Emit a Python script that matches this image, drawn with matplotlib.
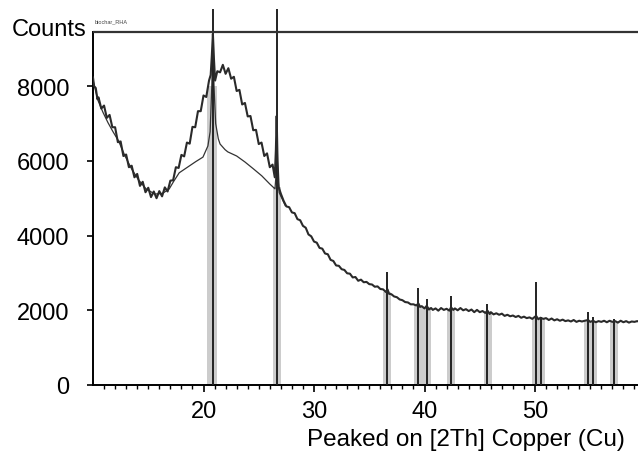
import numpy as np
import matplotlib
matplotlib.use("Agg")
import matplotlib.pyplot as plt

plt.rcParams['font.family'] = ['Liberation Sans', 'DejaVu Sans']

scan_2th = [10.0, 10.1, 10.25, 10.4, 10.5, 10.75, 11.0, 11.25, 11.5, 11.75, 12.0, 12.25, 12.5, 12.75,
            13.0, 13.25, 13.5, 13.75, 14.0, 14.25, 14.5, 14.75, 15.0, 15.25, 15.5, 15.75, 16.0, 16.25,
            16.5, 16.75, 17.0, 17.25, 17.5, 17.75, 18.0, 18.25, 18.5, 18.75, 19.0, 19.25, 19.5, 19.75,
            20.0, 20.25, 20.5, 20.65, 20.75, 20.85, 20.95, 21.05, 21.25, 21.5, 21.75, 22.0, 22.25, 22.5,
            22.75, 23.0, 23.25, 23.5, 23.75, 24.0, 24.25, 24.5, 24.75, 25.0, 25.25, 25.5, 25.75, 26.0,
            26.25, 26.45, 26.55, 26.62, 26.7, 26.8, 27.0, 27.25, 27.5, 27.75, 28.0, 28.25, 28.5, 28.75,
            29.0, 29.25, 29.5, 29.75, 30.0, 30.25, 30.5, 30.75, 31.0, 31.25, 31.5, 31.75, 32.0, 32.25,
            32.5, 32.75, 33.0, 33.25, 33.5, 33.75, 34.0, 34.25, 34.5, 34.75, 35.0, 35.25, 35.5, 35.75,
            36.0, 36.25, 36.5, 36.65, 36.8, 37.0, 37.25, 37.5, 37.75, 38.0, 38.25, 38.5, 38.75, 39.0,
            39.25, 39.45, 39.6, 39.75, 40.0, 40.2, 40.4, 40.6, 40.75, 41.0, 41.25, 41.5, 41.75, 42.0,
            42.25, 42.4, 42.6, 42.75, 43.0, 43.25, 43.5, 43.75, 44.0, 44.25, 44.5, 44.75, 45.0, 45.25,
            45.5, 45.7, 45.9, 46.0, 46.25, 46.5, 46.75, 47.0, 47.25, 47.5, 47.75, 48.0, 48.25, 48.5,
            48.75, 49.0, 49.25, 49.5, 49.75, 50.1, 50.3, 50.5, 50.75, 51.0, 51.25, 51.5, 51.75, 52.0,
            52.25, 52.5, 52.75, 53.0, 53.25, 53.5, 53.75, 54.0, 54.25, 54.5, 54.8, 55.0, 55.25, 55.5,
            55.75, 56.0, 56.25, 56.5, 56.75, 57.0, 57.25, 57.5, 57.75, 58.0, 58.25, 58.5, 58.75, 59.0,
            59.25, 59.5]
scan_counts = [8230, 8000, 7950, 7650, 7700, 7400, 7480, 7150, 7230, 6900, 6900, 6500, 6520, 6130,
               6170, 5830, 5870, 5560, 5650, 5330, 5440, 5160, 5280, 5030, 5180, 5000, 5190, 5050,
               5290, 5180, 5470, 5480, 5830, 5810, 6160, 6120, 6490, 6460, 6910, 6900, 7330, 7330,
               7750, 7710, 8150, 8300, 8800, 9400, 8700, 8150, 8400, 8370, 8570, 8330, 8480, 8200,
               8250, 7870, 7900, 7510, 7550, 7190, 7200, 6820, 6830, 6450, 6490, 6130, 6200, 5830,
               5900, 5560, 6300, 7200, 6000, 5300, 5120, 4930, 4780, 4760, 4620, 4600, 4440, 4410,
               4260, 4210, 4030, 3980, 3840, 3810, 3670, 3650, 3520, 3500, 3350, 3320, 3200, 3190,
               3100, 3080, 2990, 2980, 2880, 2890, 2790, 2820, 2750, 2760, 2700, 2690, 2630, 2640,
               2570, 2560, 2490, 2560, 2440, 2430, 2370, 2350, 2290, 2270, 2220, 2210, 2160, 2160,
               2130, 2180, 2090, 2110, 2050, 2120, 2020, 2060, 2010, 2050, 1990, 2060, 2010, 2040,
               1990, 2080, 2010, 2050, 2000, 2060, 2000, 2030, 1980, 2020, 1950, 2010, 1950, 1980,
               1930, 1990, 1900, 1950, 1890, 1920, 1880, 1910, 1850, 1880, 1840, 1860, 1820, 1850,
               1800, 1830, 1790, 1810, 1770, 1850, 1760, 1800, 1770, 1790, 1740, 1780, 1730, 1760,
               1720, 1750, 1710, 1730, 1700, 1740, 1690, 1720, 1700, 1720, 1740, 1690, 1720, 1680,
               1710, 1690, 1720, 1680, 1720, 1690, 1710, 1670, 1720, 1680, 1710, 1670, 1700, 1690,
               1710, 1690]

# fitted background + profile (thin line)
fit_2th = [10.0, 10.45, 10.9, 11.36, 11.81, 12.3, 12.9, 13.5, 14.1, 14.8, 15.6, 16.3, 16.9, 17.3,
           17.8, 18.6, 19.3, 19.95, 20.4, 20.6, 20.75, 20.85, 20.95, 21.1, 21.34, 21.5, 21.95, 22.2,
           23.0, 23.75, 24.5, 25.27, 26.0, 26.47, 26.58, 26.64, 26.72, 26.85, 27.4]
fit_counts = [8150, 7620, 7300, 7020, 6780, 6540, 6130, 5780, 5500, 5250, 5110, 5130, 5250, 5450,
              5680, 5840, 5980, 6100, 6400, 6780, 8000, 9300, 8000, 7000, 6590, 6450, 6300, 6240,
              6130, 5970, 5790, 5600, 5380, 5250, 5700, 7000, 5600, 5150, 4800]

# reference pattern sticks
stick_2th = [20.83, 26.66, 36.6, 39.44, 40.19, 42.36, 45.68, 50.09, 50.5, 54.82, 55.28, 57.12]
stick_counts = [10065, 10065, 3020, 2600, 2300, 2390, 2170, 2760, 1820, 1960, 1820, 1770]

# shaded peak bands (left, right, top)
band_left = [20.34, 26.3, 36.2, 39.05, 39.7, 42.0, 45.38, 49.7, 50.3, 54.45, 56.8]
band_right = [21.25, 27.05, 36.95, 39.7, 40.55, 42.76, 46.08, 50.3, 50.9, 55.65, 57.55]
band_top = [8000, 5300, 2500, 2130, 2080, 2030, 1950, 1800, 1790, 1720, 1700]

fig = plt.figure(figsize=(6.38, 4.56), dpi=100)
ax = fig.add_axes([93 / 638, 70 / 456, 545 / 638, 376 / 456])

ax.bar(band_left, band_top, width=np.subtract(band_right, band_left),
       align='edge', color='#cccccc', edgecolor='none', zorder=1)
ax.vlines(stick_2th, 0, stick_counts, color='#222222', lw=1.4, zorder=3)
ax.plot(fit_2th, fit_counts, color='#333333', lw=0.9, zorder=2)
ax.plot(scan_2th, scan_counts, color='#2a2a2a', lw=1.5, zorder=4)

# frame line at top
ax.axhline(9450, color='#333333', lw=1.6, zorder=5)

ax.set_xlim(10, 59.32)
ax.set_ylim(0, 10065)
for s in ['top', 'right']:
    ax.spines[s].set_visible(False)
ax.spines['left'].set_bounds(0, 9450)
ax.spines['left'].set_linewidth(1.4)
ax.spines['bottom'].set_linewidth(1.4)

ax.set_xticks([20, 30, 40, 50])
ax.set_xticks(np.arange(11, 60, 1), minor=True)
ax.set_yticks([0, 2000, 4000, 6000, 8000])
ax.tick_params(axis='x', which='major', direction='out', length=5, width=1.2,
               labelsize=17, pad=6)
ax.tick_params(axis='x', which='minor', direction='out', length=3, width=1.0)
ax.tick_params(axis='y', direction='out', length=4, width=1.2, labelsize=17, pad=13)

ax.text(0.003, 0.975, 'biochar_RHA', transform=ax.transAxes, fontsize=4,
        va='top', ha='left', color='#444444')
fig.text(12 / 638, 1 - 30 / 456, 'Counts', fontsize=17, va='center', ha='left')
fig.text(625 / 638, 1 - 440 / 456, 'Peaked on [2Th] Copper (Cu)', fontsize=17.5,
         va='center', ha='right')

fig.savefig('out.png', dpi=100)
